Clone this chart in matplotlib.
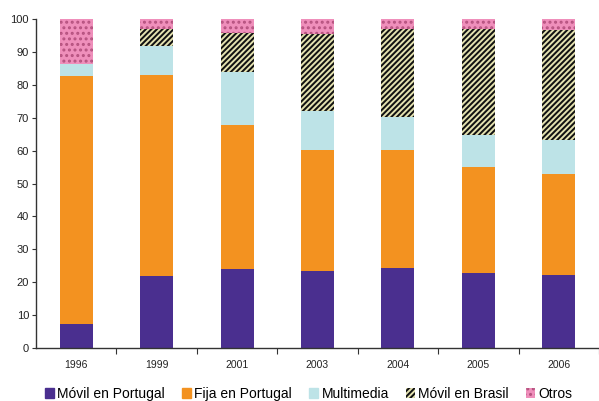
import matplotlib
matplotlib.use("Agg")
import matplotlib.pyplot as plt
import numpy as np
from matplotlib.patches import Patch

years = ["1996", "1999", "2001", "2003", "2004", "2005", "2006"]
movil_pt = [7.3, 21.9, 24.0, 23.4, 24.3, 22.8, 22.2]
fija_pt = [75.4, 61.1, 43.8, 36.8, 35.9, 32.2, 30.7]
multimedia = [3.7, 8.9, 16.2, 11.8, 10.0, 9.8, 10.4]
movil_br = [0.0, 5.1, 11.7, 23.5, 26.8, 32.2, 33.4]
otros = [13.6, 3.0, 4.3, 4.5, 3.0, 3.0, 3.3]

series = ["Móvil en Portugal", "Fija en Portugal", "Multimedia", "Móvil en Brasil", "Otros"]

plt.rcParams['font.family'] = ['Liberation Sans', 'DejaVu Sans']
plt.rcParams['hatch.linewidth'] = 1.4

fig = plt.figure(figsize=(5.99, 4.01), dpi=100)
ax = fig.add_axes([36/599, 53/401, 1 - 36/599, 329/401])

x = np.arange(len(years))
w = 0.41
bottom = np.zeros(len(years))
styles = [
    dict(color="#4a2f8f"),
    dict(color="#f39220"),
    dict(color="#bde3e7"),
    dict(facecolor="#111111", edgecolor="#e4e2b0", hatch="//////", linewidth=0),
    dict(facecolor="#ef8fbb", edgecolor="#b5527f", hatch="...", linewidth=0),
]
data = [movil_pt, fija_pt, multimedia, movil_br, otros]
for vals, st in zip(data, styles):
    vals = np.array(vals)
    ax.bar(x, vals, w, bottom=bottom, **st)
    bottom += vals

ax.set_ylim(0, 100)
ax.set_xlim(-0.5, len(years) - 0.5)
ax.set_yticks(range(0, 101, 10))
ax.tick_params(axis='y', labelsize=8, length=3, width=0.8, color="#333333", labelcolor="#222222", pad=2)
ax.set_xticks(np.arange(len(years)) + 0.5)
ax.set_xticklabels([])
ax.set_xticks(x, minor=True)
ax.set_xticklabels(years, minor=True)
ax.tick_params(axis='x', which='major', length=4, width=0.8, color="#333333")
ax.tick_params(axis='x', which='minor', length=0, labelsize=7.5, pad=9, labelcolor="#222222")
for s in ["top", "right"]:
    ax.spines[s].set_visible(False)
for s in ["left", "bottom"]:
    ax.spines[s].set_color("#333333")
    ax.spines[s].set_linewidth(1.0)

handles = [Patch(**st) for st in styles]
fig.legend(handles, series, loc="lower center", bbox_to_anchor=(0.515, -0.014), ncol=5,
           fontsize=10, frameon=False, handlelength=0.68, handleheight=0.68,
           handletextpad=0.22, columnspacing=1.22, borderaxespad=0)

fig.savefig("out.png", dpi=100)
